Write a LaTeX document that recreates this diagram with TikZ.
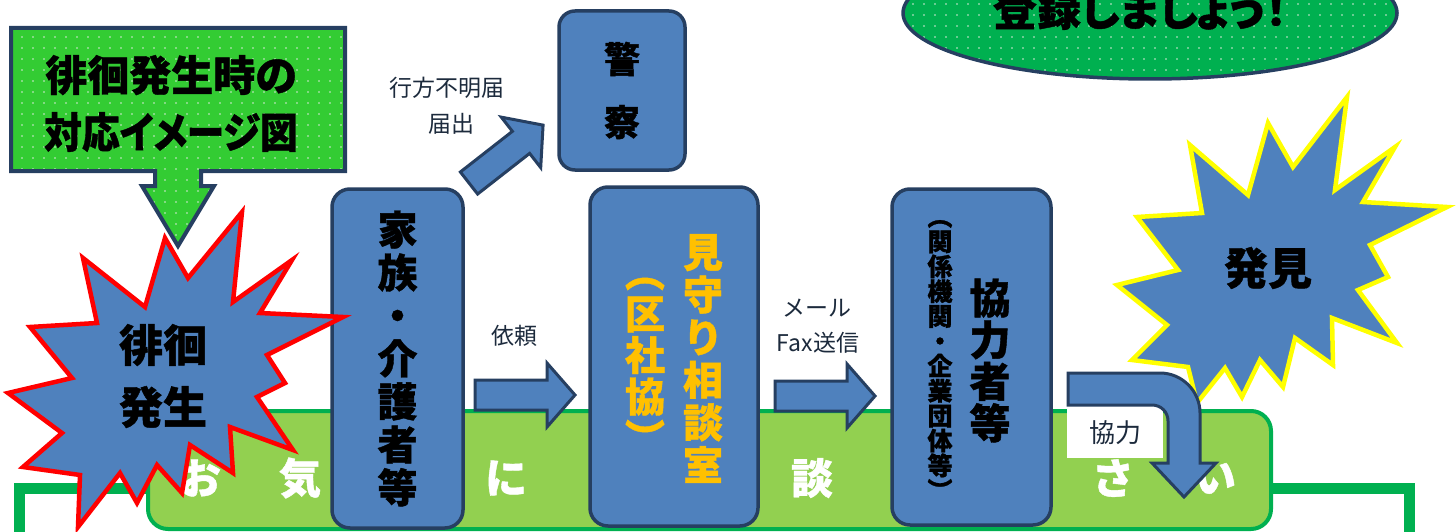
\documentclass[tikz,border=0pt]{standalone}
\usepackage{fontspec}
\newfontfamily\jp[BoldFeatures={FakeBold=1}]{Noto Sans CJK JP}
\newfontfamily\jpp[RawFeature=+palt, BoldFeatures={FakeBold=1}]{Noto Sans CJK JP}
\usetikzlibrary{patterns.meta}
\definecolor{navy}{HTML}{263F61}
\definecolor{boxblue}{HTML}{4F81BD}
\definecolor{callgreen}{HTML}{33CC33}
\definecolor{ovalgreen}{HTML}{00B050}
\definecolor{barfill}{HTML}{92D050}
\definecolor{gold}{HTML}{FFC000}
\definecolor{labelc}{HTML}{1C2A3C}
\definecolor{dotc}{HTML}{D6EAD6}
\definecolor{staryellow}{HTML}{FFFF00}
\lineskiplimit=-100pt
\begin{document}
\begin{tikzpicture}[x=1pt,y=-1pt,
  bluebox/.style={draw=navy, line width=3.5pt, fill=boxblue, rounded corners=18pt, inner sep=0pt},
  blockarrow/.style={draw=navy, line width=3pt, fill=boxblue, line join=miter},
  lbl/.style={font=\jp\fontsize{23}{26}\selectfont, text=labelc, inner sep=0pt, align=center},
  bartxt/.style={font=\jp\bfseries\fontsize{42}{42}\selectfont, text=white, inner sep=0pt},
  dotfill/.style={pattern={Dots[radius=0.9pt,distance=11pt]}, pattern color=dotc},
  vtext/.style={inner sep=0pt, align=center},
]
\useasboundingbox (0,0) rectangle (1456,532);
\clip (0,0) rectangle (1456,532);

% outer green frame
\draw[ovalgreen, line width=11pt] (19,620) -- (19,488) -- (1409,488) -- (1409,620);

% top ellipse
\draw[navy, line width=3.5pt, preaction={fill=ovalgreen}, preaction={dotfill}]
  (1150,13) ellipse [x radius=247pt, y radius=66pt];
\node[font=\jpp\bfseries\fontsize{44}{44}\selectfont, inner sep=0pt] (reg) at (1140,9) {登録しましょう！};

% light green bar
\node[draw=ovalgreen, line width=4pt, fill=barfill, rounded corners=20pt,
  minimum width=1123pt, minimum height=118pt, inner sep=0pt] (bar) at (709.5,470) {};
\node[bartxt] (b1) at (200,478) {お};
\node[bartxt] (b2) at (300,478) {気};
\node[bartxt] (b3) at (506,478) {に};
\node[bartxt] (b4) at (812,478) {談};
\node[bartxt] (b5) at (1113,478) {さ};
\node[bartxt] (b6) at (1215,478) {い};

% boxes
\node[bluebox, minimum width=131pt, minimum height=339pt,
  font=\jp\bfseries\fontsize{40}{43}\selectfont, align=center] (fam) at (397.5,358.5)
  {家\\族\\・\\介\\護\\者\\等};

\node[bluebox, minimum width=168pt, minimum height=339pt] (mim) at (674,356.5) {};
\node[vtext, font=\jp\bfseries\fontsize{40}{42.6}\selectfont, text=gold] (mim1) at (703,358.5)
  {見\\守\\り\\相\\談\\室};
\node[vtext, font=\jp\bfseries\fontsize{40}{41.5}\selectfont, text=gold] (mim2) at (645,365.5)
  {︵\\区\\社\\協\\︶};

\node[bluebox, minimum width=159pt, minimum height=336pt] (kyo) at (971.5,357) {};
\node[vtext, font=\jp\bfseries\fontsize{41}{41.7}\selectfont] (kyo1) at (990,360.5)
  {協\\力\\者\\等};
\node[vtext, font=\jp\bfseries\fontsize{25}{24.9}\selectfont] (kyo2) at (940,360)
  {︵\\関\\係\\機\\関\\・\\企\\業\\団\\体\\等\\︶};

\node[bluebox, rounded corners=16pt, minimum width=126pt, minimum height=159pt,
  font=\jp\bfseries\fontsize{36}{63}\selectfont, align=center] (police) at (622,90.5) {警\\察};

% block arrows
\draw[blockarrow] (475,380) -- (547,380) -- (547,363) -- (575,395) -- (547,427) -- (547,410) -- (475,410) -- cycle;
\draw[blockarrow] (775,381) -- (847,381) -- (847,364) -- (875,396) -- (847,428) -- (847,411) -- (775,411) -- cycle;
\begin{scope}[shift={(469,183)}, rotate=38]
  \draw[blockarrow] (0,-14) -- (66,-14) -- (66,-32) -- (94,0) -- (66,32) -- (66,14) -- (0,14) -- cycle;
\end{scope}

% labels
\node[lbl] (req) at (514,336) {依頼};
\node[lbl] (mail) at (817,308) {メール};
\node[lbl] (fax) at (818,343) {Fax送信};
\node[lbl] (miss1) at (447,88) {行方不明届};
\node[lbl] (miss2) at (451,124) {届出};

% right starburst
\draw[draw=staryellow, line width=4.5pt, fill=boxblue]
  (1347,97) -- (1335,190) -- (1395,147) -- (1363,202) -- (1447,207) -- (1370,245) -- (1388,277)
  -- (1358,290) -- (1397,343) -- (1332,318) -- (1333,365) -- (1295,338) -- (1283,387) -- (1260,360)
  -- (1242,397) -- (1225,368) -- (1197,403) -- (1188,367) -- (1132,360) -- (1167,325) -- (1117,285)
  -- (1178,270) -- (1137,217) -- (1202,213) -- (1190,145) -- (1248,195) -- (1268,123) -- (1293,167) -- cycle;
\node[font=\jp\bfseries\fontsize{44}{44}\selectfont, inner sep=0pt] (found) at (1268,268) {発見};

% cooperation label and bent arrow
\node[fill=white, minimum width=96pt, minimum height=51pt, inner sep=0pt,
  font=\jp\fontsize{26}{26}\selectfont, text=labelc] (coop) at (1115,432.5) {協力};
\draw[blockarrow] (1068,373) -- (1160,373) .. controls (1182,373) and (1200,391) .. (1200,413)
  -- (1200,463) -- (1216,463) -- (1184,497) -- (1152,463) -- (1168,463) -- (1168,421)
  .. controls (1168,412) and (1161,405) .. (1152,405) -- (1068,405) -- cycle;

% left starburst
\draw[draw=red, line width=4.5pt, fill=boxblue]
  (165,238) -- (188,278) -- (242,212) -- (233,302) -- (292,260) -- (260,313) -- (343,317)
  -- (267,355) -- (285,383) -- (257,397) -- (293,450) -- (230,427) -- (233,473) -- (190,445)
  -- (182,493) -- (157,465) -- (137,503) -- (120,473) -- (78,527) -- (80,475) -- (23,467)
  -- (62,433) -- (8,393) -- (72,378) -- (30,327) -- (97,323) -- (83,258) -- (145,307) -- cycle;
\node[font=\jp\bfseries\fontsize{44}{62}\selectfont, align=center, inner sep=0pt] (wander) at (163,376) {徘徊\\発生};

% title callout
\draw[navy, line width=4pt, line join=miter, preaction={fill=callgreen}, preaction={dotfill}]
  (11,28) -- (345,28) -- (345,171) -- (201,171) -- (201,186) -- (214,186) -- (178,246)
  -- (142,186) -- (155,186) -- (155,171) -- (11,171) -- cycle;
\node[font=\jpp\bfseries\fontsize{42}{57}\selectfont, align=center, inner sep=0pt] (title) at (171,103.5)
  {徘徊発生時の\\\scalebox{0.9}[1]{対応イメージ図}};
\end{tikzpicture}
\end{document}
